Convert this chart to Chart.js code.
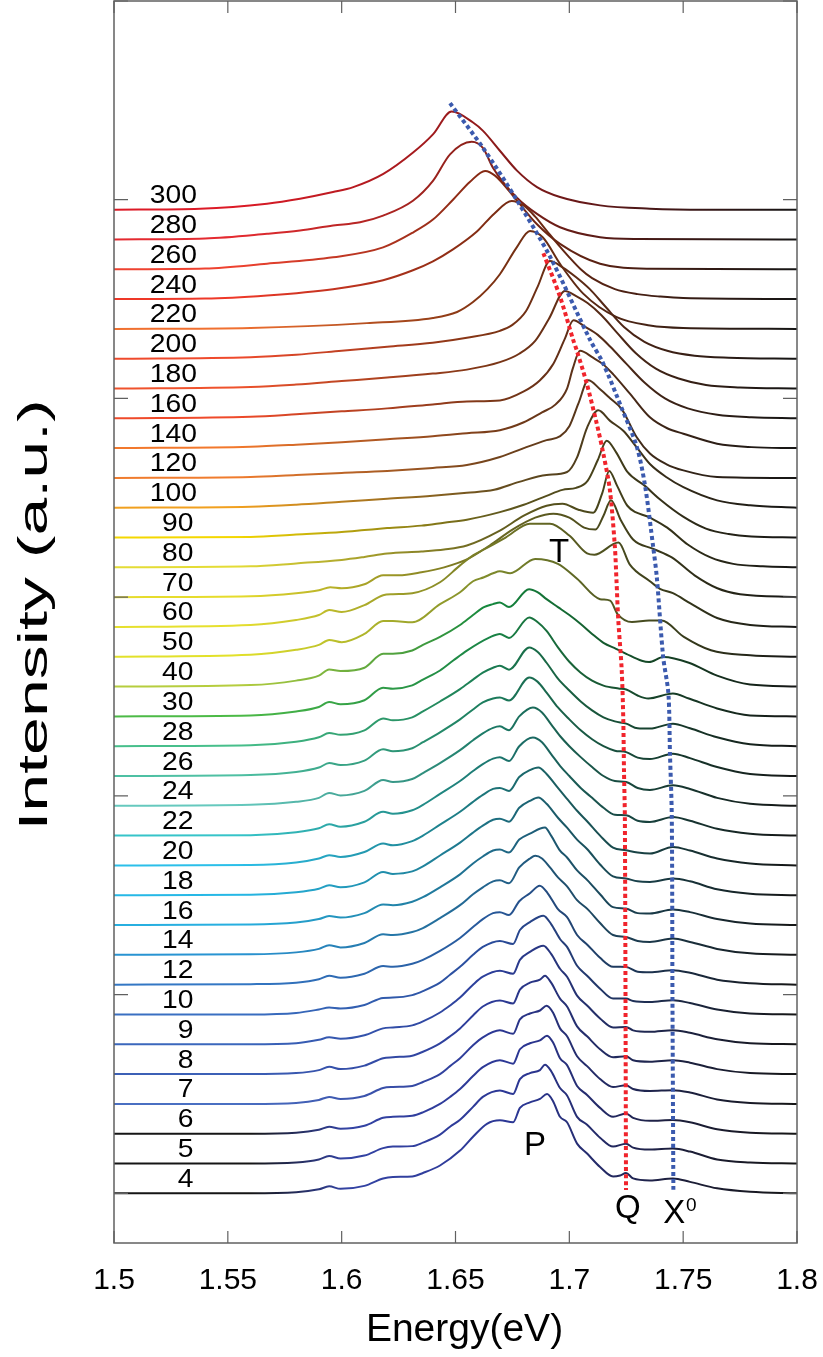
<!DOCTYPE html>
<html>
<head>
<meta charset="utf-8">
<script src="https://cdn.jsdelivr.net/npm/chart.js@4.4.1/dist/chart.umd.min.js"></script>
<style>
  html, body { margin: 0; padding: 0; background: #fff; }
  #wrap { width: 823px; height: 1357px; }
</style>
</head>
<body>
<div id="wrap"><canvas id="plChart"></canvas></div>
<script>
// ── Axis ticks ─────────────────────────────────────
const energyTicks = [1.5, 1.55, 1.6, 1.65, 1.7, 1.75, 1.8];
const intensityTicks = [0, 1, 2, 3, 4, 5, 6];

// ── Temperatures (K), bottom to top ────────────────
const temps = [4, 5, 6, 7, 8, 9, 10, 12, 14, 16, 18, 20, 22, 24, 26, 28, 30,
               40, 50, 60, 70, 80, 90, 100, 120, 140, 160, 180, 200, 220, 240, 260, 280, 300];

// ── PL spectra: [energy (eV), intensity (a.u.)] ────
const s4 = [[1.5,0],[1.56,0],[1.58,1],[1.59,4],[1.5945,7],[1.5995,4.5],[1.61,7.5],[1.6182,15],[1.6225,16.5],[1.631,17],[1.6357,20.5],[1.6432,28],[1.652,43],[1.6577,57],[1.6638,70],[1.6695,73.5],[1.6753,71.5],[1.6783,86],[1.6827,91.5],[1.6871,95],[1.6902,100],[1.6928,93],[1.6959,77],[1.699,71.5],[1.7034,50],[1.7078,40],[1.7135,26.5],[1.7192,17],[1.7223,18],[1.7249,20.5],[1.728,15],[1.7354,13],[1.7455,15],[1.753,11.5],[1.7649,5],[1.7794,1.5],[1.8,0]];
const s5 = [[1.5,0],[1.56,0],[1.58,1],[1.59,4],[1.5945,7.5],[1.5995,5],[1.61,8],[1.6182,15.5],[1.6225,17],[1.631,17.5],[1.6357,21],[1.6432,29],[1.6476,37],[1.652,44],[1.6577,57],[1.662,67],[1.6695,73.5],[1.6753,70],[1.6783,85],[1.6827,91],[1.6871,94],[1.6893,99.5],[1.692,93],[1.6959,76],[1.699,68.5],[1.7034,47],[1.7078,39],[1.7135,26],[1.7192,17],[1.7249,20],[1.728,16],[1.7354,14],[1.7455,15],[1.753,12],[1.7649,4],[1.7794,1],[1.8,0]];
const s6 = [[1.5,0],[1.56,0],[1.58,1],[1.59,4],[1.5945,7],[1.5995,5],[1.61,8],[1.6182,16],[1.6225,17],[1.631,18],[1.6357,21.5],[1.6432,30],[1.6476,37],[1.652,45],[1.6577,58],[1.662,67],[1.6695,74],[1.6753,70.5],[1.6783,85],[1.6827,91],[1.6871,94],[1.6902,98.7],[1.6928,92],[1.6959,76],[1.699,69],[1.7034,48],[1.7078,39],[1.7135,26],[1.7192,17],[1.7249,20.4],[1.728,16],[1.7354,13],[1.7455,13.7],[1.753,11.5],[1.7649,4.5],[1.7794,1],[1.8,0]];
const s7 = [[1.5,0],[1.56,0],[1.58,1],[1.59,4],[1.5945,7],[1.5995,5],[1.61,8],[1.6182,16],[1.6225,17],[1.631,18],[1.6357,22],[1.6432,30],[1.6476,38],[1.652,46],[1.6577,59],[1.662,67],[1.6695,74],[1.6753,70.5],[1.6783,85],[1.6827,91],[1.6871,94],[1.69,98.8],[1.6928,92],[1.6959,76],[1.699,68],[1.7034,48],[1.7078,38],[1.7135,25],[1.7192,17],[1.7249,18.8],[1.728,15],[1.7354,13],[1.7455,13.8],[1.753,11.5],[1.7649,4.5],[1.7794,1],[1.8,0]];
const s8 = [[1.5,0],[1.56,0],[1.58,1],[1.59,4],[1.5945,7.3],[1.5995,5],[1.61,8.5],[1.6182,16],[1.6225,17],[1.631,18.5],[1.6357,22.5],[1.6432,31],[1.6476,38],[1.652,46],[1.6577,59],[1.662,68],[1.6695,74],[1.6753,71],[1.6783,85],[1.6827,92],[1.6871,95],[1.6893,99],[1.692,92],[1.6959,76],[1.699,68],[1.7034,48],[1.7078,38],[1.7135,25],[1.7192,17],[1.7249,18],[1.728,14],[1.7354,12.5],[1.7455,14],[1.753,11.5],[1.7649,5],[1.7794,1],[1.8,0]];
const s9 = [[1.5,0],[1.56,0],[1.58,1],[1.59,4.5],[1.5945,7],[1.5995,5.5],[1.61,9],[1.6182,16],[1.6225,17],[1.631,19],[1.6357,23],[1.6432,32],[1.6476,39],[1.652,47],[1.6577,60],[1.662,68],[1.6695,74],[1.6753,71],[1.6783,85],[1.6827,93],[1.6886,99.2],[1.692,91],[1.6959,76],[1.699,68],[1.7034,49],[1.7078,39],[1.7135,26],[1.7192,17],[1.7249,17.5],[1.728,14],[1.7354,12.5],[1.7455,14.2],[1.753,11.5],[1.7649,5],[1.7794,1],[1.8,0]];
const s10 = [[1.5,0],[1.56,0],[1.58,1.5],[1.59,5],[1.5945,7],[1.5995,6],[1.61,9.5],[1.6182,16.7],[1.6225,17],[1.631,19.5],[1.6357,23.5],[1.6432,32],[1.6476,40],[1.652,48],[1.6577,60],[1.662,68],[1.6695,74],[1.6753,71],[1.6783,85],[1.6827,93],[1.6886,99.4],[1.692,91],[1.6959,76],[1.699,68],[1.7034,49],[1.7078,39],[1.7135,26],[1.7192,16],[1.7249,16],[1.728,13.5],[1.7354,12.5],[1.7455,14.4],[1.753,11.5],[1.7649,5],[1.7794,1],[1.8,0]];
const s12 = [[1.5,0],[1.56,0.5],[1.58,2],[1.59,5.5],[1.5945,9],[1.5995,7],[1.61,11],[1.6182,18.7],[1.6225,18],[1.631,21],[1.6357,25],[1.6432,34],[1.652,47],[1.6577,58],[1.662,66],[1.6665,72],[1.6695,73],[1.6735,70],[1.678,84],[1.6827,92],[1.687,99.6],[1.6905,92],[1.695,76],[1.699,68],[1.7034,50],[1.708,40],[1.7135,27],[1.7192,18],[1.7249,17.9],[1.73,13],[1.7354,12.5],[1.7455,14.6],[1.753,12],[1.7649,5],[1.7794,1.5],[1.8,0]];
const s14 = [[1.5,0],[1.56,0.5],[1.58,2.5],[1.59,6],[1.5945,9.7],[1.5995,7.5],[1.61,12],[1.6182,20.7],[1.6225,20],[1.631,23],[1.6357,27],[1.6432,37],[1.652,50],[1.6577,61],[1.662,68],[1.6665,74],[1.6695,75],[1.6735,72],[1.678,88],[1.6827,97],[1.685,99.7],[1.688,97],[1.6915,88],[1.695,78],[1.699,69],[1.7034,55],[1.708,46],[1.7135,32],[1.7192,20],[1.7249,18],[1.73,14],[1.7354,13],[1.7455,16.4],[1.753,13],[1.7649,6],[1.7794,1.5],[1.8,0]];
const s16 = [[1.5,0],[1.56,0.5],[1.58,2.5],[1.59,6],[1.5945,9],[1.5995,7.5],[1.61,12],[1.6182,20.7],[1.6225,20],[1.631,23.5],[1.6357,28],[1.6432,38],[1.652,51],[1.6577,62],[1.662,69],[1.6665,75],[1.6695,76],[1.6735,73],[1.678,86],[1.6827,92],[1.6893,98.2],[1.692,90],[1.6959,75],[1.699,68],[1.7034,55],[1.708,45],[1.7135,31],[1.7192,18],[1.7249,16.6],[1.73,12],[1.7354,11.6],[1.7455,15.6],[1.753,13],[1.7649,6],[1.7794,1.5],[1.8,0]];
const s18 = [[1.5,0],[1.56,0.5],[1.58,3],[1.59,6.5],[1.5945,10],[1.5995,8],[1.61,13],[1.6182,23.3],[1.6225,21.5],[1.631,24],[1.6357,29],[1.6432,40],[1.652,53],[1.6577,63],[1.662,70],[1.6665,76],[1.6695,77],[1.6735,74],[1.678,88],[1.6827,95],[1.6864,98.4],[1.69,92],[1.695,78],[1.699,68],[1.7034,56],[1.708,46],[1.7135,31],[1.7192,19],[1.7249,16.8],[1.73,14],[1.7354,13.4],[1.7455,16.8],[1.753,14],[1.7649,6],[1.7794,1.5],[1.8,0]];
const s20 = [[1.5,0],[1.56,0.5],[1.58,3],[1.59,7],[1.5945,10.3],[1.5995,8.5],[1.61,13.5],[1.6182,22],[1.6225,20.3],[1.631,24.5],[1.6357,30],[1.6432,41],[1.652,54],[1.6577,64],[1.662,71],[1.6665,77],[1.6695,78],[1.6735,75],[1.678,89],[1.6827,96],[1.6864,98.6],[1.69,92],[1.695,78],[1.699,67],[1.7034,55],[1.708,44],[1.7135,30],[1.7192,18],[1.7249,15.3],[1.73,13],[1.7354,12],[1.7455,18.6],[1.753,15],[1.7649,7],[1.7794,2],[1.8,0]];
const s22 = [[1.5,0],[1.56,0.5],[1.58,3.5],[1.59,7.5],[1.5945,11.5],[1.5995,9],[1.61,14],[1.6182,24],[1.6225,22],[1.631,25.5],[1.6357,31],[1.6432,42],[1.652,55],[1.6577,65],[1.662,72],[1.6665,77.5],[1.6695,79],[1.6735,75],[1.678,90],[1.684,98.8],[1.688,94],[1.692,82],[1.696,70],[1.70,60],[1.705,48],[1.71,38],[1.715,28],[1.72,21],[1.725,20.5],[1.73,15],[1.7354,13.8],[1.7455,18.8],[1.753,15],[1.7649,7],[1.7794,2],[1.8,0]];
const s24 = [[1.5,0],[1.56,1],[1.58,4],[1.59,8],[1.5945,13],[1.5995,10.5],[1.61,15],[1.6182,26],[1.6225,24],[1.631,27],[1.6357,33],[1.6432,43],[1.652,56],[1.6577,66],[1.662,73],[1.6665,78.5],[1.6695,80],[1.6735,76],[1.678,90],[1.684,98.9],[1.688,94],[1.692,82],[1.696,70],[1.70,60],[1.705,49],[1.71,39],[1.715,30],[1.72,25],[1.725,24],[1.73,18],[1.7354,16],[1.7455,20.6],[1.753,17],[1.7649,8],[1.7794,2],[1.8,0]];
const s26 = [[1.5,0],[1.56,1],[1.58,4],[1.59,8.5],[1.5945,13],[1.5995,11],[1.61,15.5],[1.6182,27],[1.6225,25],[1.631,28],[1.6357,34],[1.6432,44],[1.652,57],[1.6577,67],[1.662,74],[1.6665,78],[1.6695,79],[1.6735,76],[1.6824,99.1],[1.686,95],[1.69,84],[1.695,69],[1.70,57],[1.705,46],[1.71,37],[1.715,30],[1.72,25.5],[1.725,24],[1.73,18.5],[1.7354,17],[1.7455,22.5],[1.753,18],[1.7649,9],[1.7794,2],[1.8,0]];
const s28 = [[1.5,0],[1.56,1],[1.58,4.5],[1.59,9],[1.5945,13.3],[1.5995,11.5],[1.61,16],[1.6182,28],[1.6225,26],[1.631,29],[1.6357,35],[1.6432,45],[1.652,57.5],[1.6577,67],[1.662,74],[1.6665,79],[1.6695,81],[1.6735,77],[1.6824,99.3],[1.686,95],[1.69,84],[1.695,68],[1.70,56],[1.705,45],[1.71,36],[1.715,29],[1.72,25],[1.725,22.7],[1.73,18],[1.7354,17.7],[1.7455,22.7],[1.753,18],[1.7649,9],[1.7794,2],[1.8,0]];
const s30 = [[1.5,0],[1.56,1],[1.58,5],[1.59,9.5],[1.5945,14.5],[1.5995,12.2],[1.61,16.2],[1.6182,28.9],[1.6225,27.9],[1.631,31.2],[1.6357,37],[1.6432,46.2],[1.649,56.2],[1.655,66.2],[1.665,79.5],[1.6695,83],[1.6735,79],[1.6824,99.5],[1.686,95],[1.69,86],[1.695,69.5],[1.70,55],[1.705,44],[1.71,36],[1.715,31],[1.7216,28],[1.725,27],[1.73,21],[1.7347,18],[1.7455,23],[1.7525,18],[1.7649,8],[1.7794,1],[1.8,0]];
const s40 = [[1.5,0],[1.56,1.5],[1.58,6],[1.59,11],[1.5945,17.3],[1.5995,15.7],[1.61,19],[1.6182,33],[1.6225,33],[1.631,36.3],[1.6357,42],[1.6432,50],[1.652,62],[1.6577,72],[1.6625,80],[1.6665,83],[1.6695,84.7],[1.6735,80],[1.6823,98],[1.686,95],[1.69,88],[1.695,80],[1.70,72],[1.705,63],[1.71,53],[1.715,44],[1.7205,38],[1.725,33],[1.7318,26],[1.735,24.7],[1.7413,29.7],[1.7525,24],[1.7649,11],[1.7794,2],[1.8,0]];
const s50 = [[1.5,0],[1.56,2],[1.58,7],[1.59,12],[1.5945,17],[1.6,14.7],[1.61,23],[1.6182,36],[1.6225,36],[1.631,34.7],[1.6432,53],[1.652,65],[1.6577,76],[1.6625,80],[1.6665,84],[1.6695,86],[1.674,84],[1.685,98.5],[1.695,93.5],[1.7034,78.5],[1.7135,58],[1.7179,56.5],[1.7212,43],[1.7275,35],[1.735,36.5],[1.7405,36.5],[1.7503,20],[1.7622,6.5],[1.7794,1.5],[1.8,0]];
const s60 = [[1.5,0],[1.56,2],[1.58,7],[1.59,12],[1.5945,17],[1.6,15],[1.61,22],[1.6182,32],[1.6225,33],[1.631,34],[1.6432,45],[1.652,62],[1.6577,72],[1.6625,78],[1.6665,83],[1.672,90],[1.6827,104],[1.6915,104],[1.70,92],[1.7078,74],[1.711,72.7],[1.7216,85],[1.7265,63],[1.7354,46],[1.7398,38.4],[1.7455,34],[1.753,24],[1.7649,9],[1.7794,2],[1.8,0]];
const s70 = [[1.5,0],[1.56,1],[1.58,4],[1.59,7],[1.595,10],[1.6,9],[1.61,13],[1.6182,22],[1.625,22],[1.635,25],[1.645,30],[1.655,38],[1.665,52],[1.675,68],[1.685,80],[1.693,84],[1.70,80],[1.7065,70],[1.7115,68],[1.715,82],[1.7183,97.6],[1.7225,78],[1.728,58],[1.7369,48.6],[1.745,40],[1.755,22],[1.765,9],[1.775,3],[1.8,0]];
const s80 = [[1.5,0],[1.56,1],[1.58,4],[1.6,7.5],[1.61,10.5],[1.62,14],[1.635,16],[1.645,18],[1.655,22],[1.6695,37],[1.68,52],[1.69,62],[1.697,64],[1.704,58],[1.7105,55],[1.7145,75],[1.7175,97],[1.721,82],[1.7255,62],[1.7355,50],[1.743,40],[1.752,23],[1.762,10],[1.772,3.5],[1.785,1],[1.8,0]];
const s90 = [[1.5,0],[1.56,0.5],[1.58,3],[1.6,5.5],[1.61,7.5],[1.62,9.5],[1.635,12],[1.645,15],[1.655,18],[1.6695,25.6],[1.68,33],[1.69,42],[1.697,48],[1.703,50],[1.708,57],[1.7125,78],[1.7164,97.4],[1.7205,86],[1.7255,66],[1.7332,52],[1.74,38],[1.75,21],[1.76,9],[1.77,3.5],[1.78,1],[1.8,0]];
const s100 = [[1.5,0],[1.56,1],[1.58,3],[1.6,6],[1.62,9],[1.64,12],[1.655,15],[1.667,18],[1.678,26],[1.69,33],[1.699,36],[1.7034,50.7],[1.7078,80.7],[1.7127,98],[1.7179,87.4],[1.7237,77.4],[1.7296,60.7],[1.7354,44],[1.7427,30.7],[1.7501,20.7],[1.7649,7.4],[1.7794,2.4],[1.8,0]];
const s120 = [[1.5,0],[1.56,1],[1.58,3],[1.6,5],[1.62,7],[1.64,10],[1.655,13],[1.6695,21],[1.68,30],[1.69,38],[1.696,42],[1.70,52],[1.704,75],[1.7083,98.3],[1.7135,89.3],[1.718,80],[1.723,69.3],[1.7296,41],[1.7354,24.6],[1.7425,14],[1.7501,7.6],[1.7649,1],[1.8,0]];
const s140 = [[1.5,0],[1.56,1.5],[1.58,3.5],[1.6,6],[1.62,9],[1.64,12],[1.655,15],[1.6695,18],[1.68,26],[1.688,36],[1.694,44],[1.699,60],[1.7015,80],[1.7047,98],[1.7104,91],[1.7148,84.5],[1.7192,74.5],[1.7267,54.5],[1.7354,31],[1.743,20],[1.7501,14.5],[1.7649,4.5],[1.78,1],[1.8,0]];
const s160 = [[1.5,0],[1.56,1.5],[1.58,4],[1.6,7],[1.62,10],[1.64,14],[1.655,17],[1.6695,18],[1.68,27],[1.687,38],[1.693,55],[1.698,80],[1.7018,98.7],[1.707,92],[1.7125,84],[1.718,72],[1.725,55],[1.733,36],[1.742,20],[1.752,10],[1.765,3.5],[1.78,1],[1.8,0]];
const s180 = [[1.5,0],[1.56,1.5],[1.58,4],[1.6,7.5],[1.62,11],[1.64,15],[1.655,19],[1.6695,26.5],[1.678,35],[1.685,48],[1.691,70],[1.6981,98.2],[1.703,93],[1.708,86],[1.714,74],[1.721,56],[1.729,36],[1.738,20],[1.748,10],[1.76,3.5],[1.775,1],[1.8,0]];
const s200 = [[1.5,0],[1.56,1.5],[1.58,4],[1.6,8],[1.62,12],[1.64,16],[1.655,21],[1.6695,28],[1.675,34],[1.681,48],[1.686,72],[1.6915,98.3],[1.697,92],[1.703,82],[1.709,70],[1.716,52],[1.724,32],[1.733,17],[1.743,8],[1.755,3],[1.77,1],[1.8,0]];
const s220 = [[1.5,0],[1.56,1],[1.6111,5.8],[1.6401,11],[1.6507,17],[1.6577,27],[1.664,40],[1.6695,55],[1.6769,82],[1.6827,98.5],[1.6884,92],[1.6959,65.5],[1.7061,35.5],[1.7208,11.8],[1.7354,3.5],[1.75,1],[1.8,0]];
const s240 = [[1.5,0],[1.54,0.5],[1.5672,3.7],[1.5962,10],[1.6182,19],[1.6313,29],[1.6401,38],[1.6489,50],[1.6594,68],[1.667,86],[1.6747,98.7],[1.68,94],[1.685,83],[1.69,69],[1.695,55],[1.70,42],[1.705,30],[1.71,21],[1.72,10],[1.73,5],[1.74,2.5],[1.75,1],[1.8,0]];
const s260 = [[1.5,0],[1.54,0.8],[1.5672,5.6],[1.5962,12],[1.6182,22],[1.6313,37],[1.6401,50],[1.6489,70],[1.6564,88],[1.663,99],[1.6675,94],[1.677,69],[1.6857,45.6],[1.6959,25.6],[1.7135,5.6],[1.7354,0.6],[1.8,0]];
const s280 = [[1.5,0],[1.54,1],[1.5672,5.7],[1.5817,9],[1.5962,14],[1.6081,17.3],[1.6182,24],[1.6313,39],[1.6401,59],[1.6476,85.7],[1.6571,98.3],[1.6621,92],[1.6665,72],[1.677,42],[1.6858,25.7],[1.6959,12.3],[1.7135,2.3],[1.73,0.5],[1.8,0]];
const s300 = [[1.5,0],[1.5378,1],[1.5672,6],[1.5817,11],[1.5962,17.7],[1.6051,22.7],[1.6183,36],[1.6315,57.7],[1.6402,76],[1.6483,98.7],[1.6577,87.7],[1.6621,79.3],[1.6695,59.3],[1.677,39.3],[1.6858,22.7],[1.6959,12.7],[1.7135,4.3],[1.7354,1],[1.76,0],[1.8,0]];

const spectra = [s4, s5, s6, s7, s8, s9, s10, s12, s14, s16, s18, s20, s22, s24, s26, s28, s30,
                 s40, s50, s60, s70, s80, s90, s100, s120, s140, s160, s180, s200, s220, s240, s260, s280, s300];

// ── Guide lines (energy, stacked intensity) ────────
const blueE = [1.6476, 1.6622, 1.6769, 1.6915, 1.7091, 1.7148, 1.7230, 1.7296, 1.7332, 1.7369, 1.7384, 1.7412, 1.7435, 1.7442, 1.7450, 1.7453, 1.7457];
const blueY = [5.486, 5.259, 4.999, 4.714, 4.295, 4.178, 3.951, 3.758, 3.565, 3.246, 3.103, 2.701, 2.516, 2.214, 1.895, 0.973, 0.017];
const redE  = [1.6886, 1.6959, 1.7017, 1.7032, 1.7076, 1.7120, 1.7149, 1.7178, 1.7200, 1.7207, 1.7215, 1.7230, 1.7237, 1.7240, 1.7244, 1.7249];
const redY  = [4.731, 4.512, 4.294, 4.244, 4.077, 3.875, 3.724, 3.540, 3.254, 3.087, 2.885, 2.634, 2.383, 2.131, 1.879, 0.017];

// ── Peak annotations ───────────────────────────────
const peakNames = ['T', 'P', 'Q', 'X'];
const peakE = [1.6955, 1.6849, 1.7257, 1.7461];
const peakY = [3.179, 0.193, -0.124, -0.150];

// ── Styling ────────────────────────────────────────
const OFFSET_STEP = 0.15;     // vertical shift between spectra
const INT_SCALE = 1 / 200;    // a.u. -> axis units
const FONT = "Arial, 'Liberation Sans', sans-serif";

const leftColors = ['#141414', '#141414', '#141414', '#4a6fc2', '#3c60b6', '#3b67bc', '#3a6fc2',
    '#3377c4', '#2994d2', '#27afe0', '#26b8e6', '#2bbfe9', '#36c4c9', '#66c9be', '#4ec0a3', '#47bf8b', '#4cba46',
    '#b6cd3e', '#e2e12a', '#e6e02e', '#e6dc2c', '#e4dc36', '#f4d700',
    '#f1a01f', '#f07c2e', '#f2782c', '#ef4a2a', '#ef522c', '#ef4a2c', '#f07030', '#ee3828', '#ee4230', '#e42a30', '#dc1a26'];
const midColors = ['#2b3693', '#2b3693', '#2b3693', '#2c3896', '#2c3a98', '#2c3e9a', '#2a4c9c',
    '#27589a', '#23648e', '#1f6b8a', '#1d7082', '#1c7478', '#1c7870', '#1c7a66', '#1b7c5c', '#1a7c52', '#198446',
    '#14883e', '#7e8a2c', '#747826', '#6c6a22', '#686220', '#645c1e',
    '#6a5020', '#74441c', '#7a3e1a', '#7c3818', '#7c3616', '#7e3414', '#7e3212', '#7e2c12', '#822812', '#862018', '#8e1a1a'];

function mix(a, b, t) {
    const pa = [1, 3, 5].map(k => parseInt(a.substr(k, 2), 16));
    const pb = [1, 3, 5].map(k => parseInt(b.substr(k, 2), 16));
    return 'rgb(' + pa.map((v, k) => Math.round(v + (pb[k] - v) * t)).join(',') + ')';
}

function curveColor(i) {
    return (ctx) => {
        const chart = ctx.chart;
        const area = chart.chartArea;
        if (!area) return midColors[i];
        const g = chart.ctx.createLinearGradient(area.left, 0, area.right, 0);
        if (temps[i] <= 6) {
            g.addColorStop(0, '#151515');
            g.addColorStop(0.2, '#151515');
            g.addColorStop(0.34, '#3444a4');
            g.addColorStop(0.6, midColors[i]);
            g.addColorStop(0.82, '#1d1f3c');
            g.addColorStop(1, '#151515');
        } else {
            g.addColorStop(0, leftColors[i]);
            g.addColorStop(0.18, leftColors[i]);
            g.addColorStop(0.55, midColors[i]);
            g.addColorStop(0.8, mix(midColors[i], '#151515', 0.6));
            g.addColorStop(1, '#151515');
        }
        return g;
    };
}

// ── Datasets ───────────────────────────────────────
const datasets = spectra.map((s, i) => ({
    label: temps[i] + ' K',
    data: s.map(p => ({ x: p[0], y: i * OFFSET_STEP + p[1] * INT_SCALE })),
    borderColor: curveColor(i),
    borderWidth: 2,
    pointRadius: 0,
    cubicInterpolationMode: 'monotone',
    order: 10,
}));

datasets.push({
    label: 'X0 guide',
    data: blueE.map((e, k) => ({ x: e, y: blueY[k] })),
    borderColor: '#3b5aae',
    borderWidth: 4,
    borderDash: [4, 3],
    borderCapStyle: 'butt',
    pointRadius: 0,
    tension: 0.3,
    order: 1,
});
datasets.push({
    label: 'Q guide',
    data: redE.map((e, k) => ({ x: e, y: redY[k] })),
    borderColor: '#f0242c',
    borderWidth: 4,
    borderDash: [4, 3],
    borderCapStyle: 'butt',
    pointRadius: 0,
    tension: 0.3,
    order: 0,
});

// ── Frame, ticks and text ──────────────────────────
const decorations = {
    id: 'decorations',
    afterDatasetsDraw(chart) {
        const { ctx, chartArea: a, scales: { x, y } } = chart;
        ctx.save();

        // box with inward ticks
        ctx.strokeStyle = '#606060';
        ctx.lineWidth = 1.5;
        ctx.strokeRect(a.left, a.top, a.right - a.left, a.bottom - a.top);
        ctx.lineWidth = 1.2;
        ctx.beginPath();
        energyTicks.forEach(v => {
            const px = x.getPixelForValue(v);
            ctx.moveTo(px, a.bottom); ctx.lineTo(px, a.bottom - 12);
            ctx.moveTo(px, a.top); ctx.lineTo(px, a.top + 12);
        });
        intensityTicks.forEach(v => {
            const py = y.getPixelForValue(v);
            ctx.moveTo(a.left, py); ctx.lineTo(a.left + 14, py);
            ctx.moveTo(a.right, py); ctx.lineTo(a.right - 14, py);
        });
        ctx.stroke();

        ctx.fillStyle = '#000';

        // x tick labels
        ctx.font = '30px ' + FONT;
        ctx.textAlign = 'center';
        ctx.textBaseline = 'alphabetic';
        energyTicks.forEach(v => {
            ctx.fillText(String(v), x.getPixelForValue(v), a.bottom + 46);
        });

        // axis titles
        ctx.font = '39px ' + FONT;
        ctx.fillText('Energy(eV)', (a.left + a.right) / 2 + 9, a.bottom + 98);
        ctx.save();
        ctx.translate(47, 615);
        ctx.rotate(-Math.PI / 2);
        ctx.font = '41px ' + FONT;
        ctx.scale(1.66, 1);
        ctx.fillText('Intensity (a.u.)', 0, 0);
        ctx.restore();

        // temperature labels
        ctx.font = '25px ' + FONT;
        ctx.textAlign = 'right';
        temps.forEach((t, i) => {
            const label = String(t);
            const px = label.length === 3 ? 197 : 193.5;
            const py = y.getPixelForValue(i * OFFSET_STEP) - 6.5;
            ctx.save();
            ctx.translate(px, py);
            ctx.scale(1.13, 1);
            ctx.fillText(label, 0, 0);
            ctx.restore();
        });

        // peak letters
        ctx.font = '33px ' + FONT;
        ctx.textAlign = 'center';
        peakNames.forEach((n, k) => {
            const px = x.getPixelForValue(peakE[k]);
            const py = y.getPixelForValue(peakY[k]);
            ctx.fillText(n, px, py);
            if (n === 'X') {
                ctx.font = '19px ' + FONT;
                ctx.fillText('0', px + 17, py - 12);
                ctx.font = '33px ' + FONT;
            }
        });
        ctx.restore();
    }
};

new Chart(document.getElementById('plChart'), {
    type: 'line',
    data: { datasets },
    options: {
        responsive: true,
        maintainAspectRatio: false,
        animation: false,
        devicePixelRatio: 1,
        layout: { padding: { left: 114, right: 26, top: 1, bottom: 114 } },
        plugins: { legend: { display: false }, tooltip: { enabled: false } },
        scales: {
            x: { type: 'linear', min: 1.5, max: 1.8, display: false },
            y: { type: 'linear', min: -0.25, max: 6, display: false }
        }
    },
    plugins: [decorations]
});
</script>
</body>
</html>
